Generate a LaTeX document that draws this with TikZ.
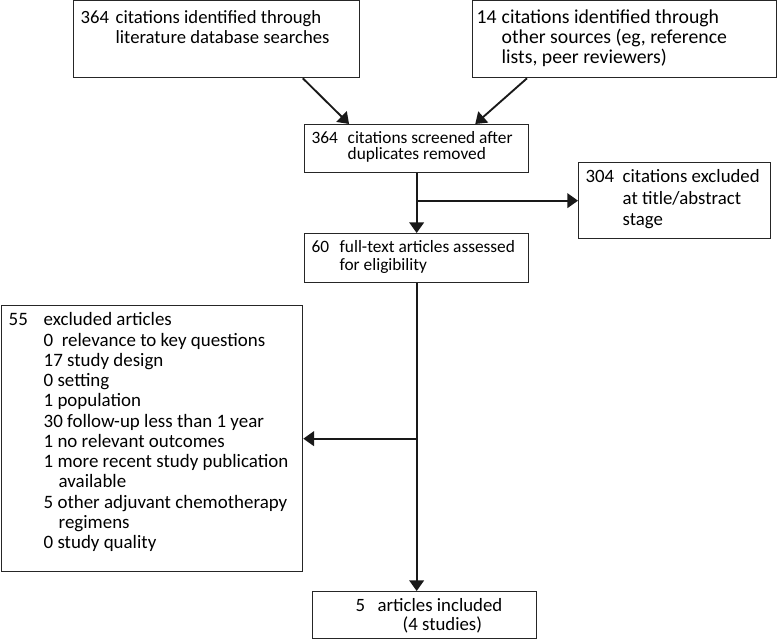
\documentclass[tikz,border=0pt]{standalone}
\usepackage{fontspec}
\setmainfont{Carlito}
\usetikzlibrary{arrows.meta,calc}
\newlength\px
\setlength\px{0.75pt}
\newcommand{\lead}[2]{\makebox[#1\px][l]{#2}}
\newcommand{\boxtext}[3]{\parbox[t][#2\px][t]{#1\px}{\raggedright #3}}
\begin{document}
\begin{tikzpicture}[x=0.75pt,y=-0.75pt]
    \tikzstyle{box}=[draw=black!85,line width=1pt,anchor=north west,inner xsep=7\px,inner ysep=7\px]
    \tikzstyle{arr}=[-{Triangle[length=8pt,width=11pt]},line width=1.4pt,black!90]
      \useasboundingbox (0,0) rectangle (778,639);
      \node (ident) at (73,0) [box,inner ysep=9.5\px,font=\fontsize{14}{15}\selectfont]
        {\boxtext{272}{58}{\lead{35}{364}citations identified through\\\hspace*{35\px}literature database searches}};
      \node (other) at (472,0) [box,inner xsep=4\px,inner ysep=9.5\px,font=\fontsize{14.8}{15}\selectfont]
        {\boxtext{296}{58}{\lead{25}{14}citations identified through\\\hspace*{25\px}other sources (eg, reference\\\hspace*{25\px}lists, peer reviewers)}};
      \node (screen) at (304,124) [box,font=\fontsize{13}{12}\selectfont]
        {\boxtext{210}{34}{\lead{36}{364}citations screened after\\\hspace*{36\px}duplicates removed}};
      \node (titleexcl) at (578,162) [box,font=\fontsize{14.1}{16}\selectfont]
        {\boxtext{178}{62}{\lead{37}{304}citations excluded\\\hspace*{37\px}at title/abstract\\\hspace*{37\px}stage}};
      \node (full) at (304,233) [box,font=\fontsize{13}{13}\selectfont]
        {\boxtext{210}{35}{\lead{28}{60}full-text articles assessed\\\hspace*{28\px}for eligibility}};
      \node (fullexcl) at (1,305) [box,font=\fontsize{14.2}{15.2}\selectfont]
        {\boxtext{287}{252}{\lead{35}{55}excluded articles\\
          \hspace*{35\px}0\ \ relevance to key questions\\
          \hspace*{35\px}17 study design\\
          \hspace*{35\px}0 setting\\
          \hspace*{35\px}1 population\\
          \hspace*{35\px}30 follow-up less than 1 year\\
          \hspace*{35\px}1 no relevant outcomes\\
          \hspace*{35\px}1 more recent study publication\\
          \hspace*{50\px}available\\
          \hspace*{35\px}5 other adjuvant chemotherapy\\
          \hspace*{50\px}regimens\\
          \hspace*{35\px}0 study quality}};
      \node (incl) at (312,591) [box,font=\fontsize{14.1}{14.2}\selectfont]
        {\boxtext{210}{33}{\hspace*{36\px}\lead{22}{5}articles included\\\hspace*{83\px}(4 studies)}};

      \draw[arr] ($(ident.south west)!0.8!(ident.south east)$) -- ($(screen.north west)!0.2!(screen.north east)$);
      \draw[arr] ($(other.south west)!0.18!(other.south east)$) -- ($(screen.north west)!0.76!(screen.north east)$);
      \draw[arr] (screen.south) -- (full.north);
      \draw[arr] (screen.south |- titleexcl.west) -- (titleexcl.west);
      \draw[arr] (full.south) -- (full.south |- incl.north);
      \draw[arr] (full.south |- fullexcl.east) -- (fullexcl.east);
  \end{tikzpicture}
\end{document}
